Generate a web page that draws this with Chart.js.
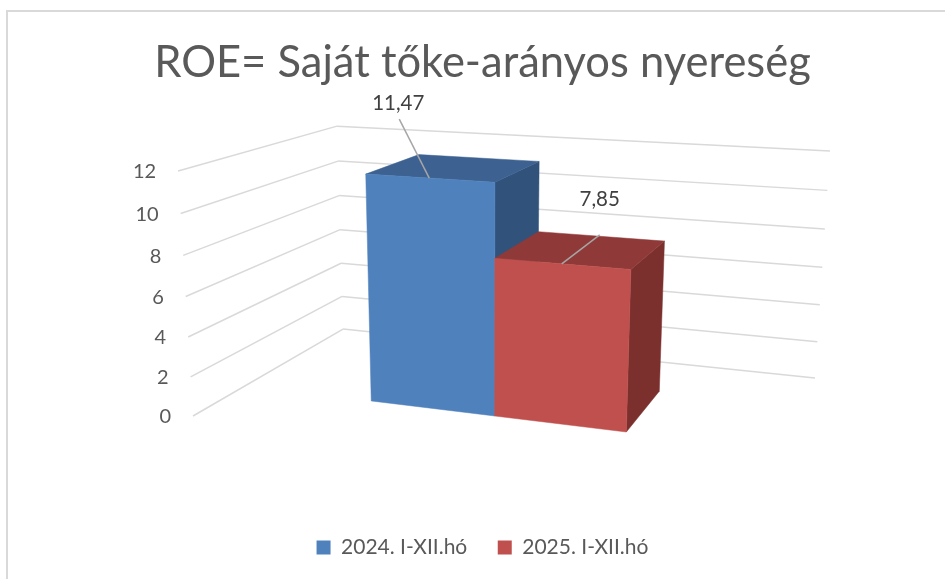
<!DOCTYPE html>
<html>
<head>
<meta charset="utf-8">
<title>ROE</title>
<script src="https://cdn.jsdelivr.net/npm/chart.js@4"></script>
<style>
    html, body { margin: 0; padding: 0; background: #fff; }
    canvas { display: block; }
</style>
</head>
<body>
<canvas id="roeChart" width="945" height="579"></canvas>
<script>
// Chart data
const categories = ['ROE'];
const series2024 = [11.47];
const series2025 = [7.85];
const seriesNames = ['2024. I-XII.hó', '2025. I-XII.hó'];
const yTicks = [0, 2, 4, 6, 8, 10, 12];
const yTickLabels = ['0', '2', '4', '6', '8', '10', '12'];

const FONT = 'Lato, Carlito, Calibri, sans-serif';
const GRID_COLOR = '#d9d9d9';

// Shades for the 3D faces: front, top, side
const faces = [
    { front: '#4f81bd', top: '#3d6291', side: '#31527b' },
    { front: '#c0504d', top: '#8f3a38', side: '#7b302e' }
];

// Where each value label sits relative to the top middle of its bar
const labelOffsets = [
    { x: -31, y: -75, lineX: -30, lineY: -59 },
    { x: 38, y: -64, lineX: 38, lineY: -29 }
];

// Perspective matrix: axis x, y, depth, origin
const view = {
    x: [465.5, 8.976, -0.13397],
    y: [-23.41, -253.2, -0.04777],
    z: [224.7, -15.24, 0.2177],
    o: [193, 416, 1]
};

// The bars take this slice of the floor depth
const barDepth = { near: 0.306, far: 0.699 };

// x, y and z are 0..1 inside the chart box
function project(x, y, z) {
    const h = [0, 1, 2].map(i => x * view.x[i] + y * view.y[i] + z * view.z[i] + view.o[i]);
    return { x: h[0] / h[2], y: h[1] / h[2] };
}

function fillFace(ctx, points, color) {
    ctx.beginPath();
    points.forEach((p, i) => i ? ctx.lineTo(p.x, p.y) : ctx.moveTo(p.x, p.y));
    ctx.closePath();
    ctx.fillStyle = color;
    ctx.strokeStyle = color;
    ctx.lineWidth = 0.5;
    ctx.fill();
    ctx.stroke();
}

function line(ctx, a, b, color, width) {
    ctx.beginPath();
    ctx.moveTo(a.x, a.y);
    ctx.lineTo(b.x, b.y);
    ctx.strokeStyle = color;
    ctx.lineWidth = width;
    ctx.stroke();
}

// Draws the walls and the boxes from what the scales and bar elements worked out
const perspectivePlugin = {
    id: 'perspective',
    beforeDraw(chart) {
        const ctx = chart.ctx;
        ctx.save();
        ctx.strokeStyle = GRID_COLOR;
        ctx.lineWidth = 2;
        ctx.beginPath();
        ctx.moveTo(7, 579);
        ctx.lineTo(7, 11);
        ctx.lineTo(945, 11);
        ctx.stroke();
        ctx.restore();
    },
    beforeDatasetsDraw(chart) {
        const ctx = chart.ctx;
        const area = chart.chartArea;
        const yScale = chart.scales.y;
        ctx.save();
        ctx.lineCap = 'butt';
        yScale.ticks.forEach((tick, i) => {
            const y = (area.bottom - yScale.getPixelForValue(tick.value)) / area.height;
            const front = project(0, y, 0);
            line(ctx, front, project(0, y, 1), GRID_COLOR, 1.5);
            line(ctx, project(0, y, 1), project(1, y, 1), GRID_COLOR, 1.5);
            ctx.fillStyle = '#595959';
            ctx.font = '20px ' + FONT;
            ctx.textAlign = 'right';
            ctx.textBaseline = 'middle';
            ctx.fillText(yTickLabels[i], front.x - 22, front.y + 1);
        });
        ctx.restore();
    },
    beforeDatasetDraw() {
        // the flat bars are replaced by the boxes below
        return false;
    },
    afterDatasetsDraw(chart) {
        const ctx = chart.ctx;
        const area = chart.chartArea;
        const yScale = chart.scales.y;
        const near = barDepth.near;
        const far = barDepth.far;
        ctx.save();
        chart.data.datasets.forEach((ds, i) => {
            const bar = chart.getDatasetMeta(i).data[0];
            const x0 = (bar.x - bar.width / 2 - area.left) / area.width;
            const x1 = (bar.x + bar.width / 2 - area.left) / area.width;
            const y0 = (area.bottom - bar.base) / area.height;
            const y1 = (area.bottom - yScale.getPixelForValue(ds.data[0])) / area.height;
            fillFace(ctx, [project(x1, y0, near), project(x1, y0, far), project(x1, y1, far), project(x1, y1, near)], faces[i].side);
            fillFace(ctx, [project(x0, y1, near), project(x1, y1, near), project(x1, y1, far), project(x0, y1, far)], faces[i].top);
            fillFace(ctx, [project(x0, y0, near), project(x1, y0, near), project(x1, y1, near), project(x0, y1, near)], faces[i].front);
        });
        // value labels go on top of all boxes
        chart.data.datasets.forEach((ds, i) => {
            const bar = chart.getDatasetMeta(i).data[0];
            const y1 = (area.bottom - yScale.getPixelForValue(ds.data[0])) / area.height;
            const anchor = project((bar.x - area.left) / area.width, y1, near);
            const off = labelOffsets[i];
            line(ctx, anchor, { x: anchor.x + off.lineX, y: anchor.y + off.lineY }, '#a6a6a6', 1.5);
            ctx.fillStyle = '#404040';
            ctx.font = '20.5px ' + FONT;
            ctx.textAlign = 'center';
            ctx.textBaseline = 'middle';
            ctx.fillText(String(ds.data[0]).replace('.', ','), anchor.x + off.x, anchor.y + off.y);
        });
        ctx.restore();
    }
};

const chartCtx = document.getElementById('roeChart').getContext('2d');
const roeChart = new Chart(chartCtx, {
    type: 'bar',
    data: {
        labels: categories,
        datasets: [
            { label: seriesNames[0], data: series2024, backgroundColor: faces[0].front, borderWidth: 0 },
            { label: seriesNames[1], data: series2025, backgroundColor: faces[1].front, borderWidth: 0 }
        ]
    },
    options: {
        responsive: false,
        animation: false,
        layout: { padding: { top: 37, right: 0, bottom: 11, left: 20 } },
        categoryPercentage: 0.479,
        barPercentage: 1,
        scales: {
            x: { display: false },
            y: {
                display: false,
                min: 0,
                max: 12,
                afterBuildTicks(scale) {
                    scale.ticks = yTicks.map(v => ({ value: v }));
                }
            }
        },
        plugins: {
            title: {
                display: true,
                text: 'ROE= Saját tőke-arányos nyereség',
                color: '#595959',
                font: { family: FONT, size: 43.5, weight: 'normal' },
                padding: { top: 0, bottom: 20 }
            },
            legend: {
                position: 'bottom',
                labels: {
                    color: '#595959',
                    font: { family: FONT, size: 21 },
                    boxWidth: 14,
                    boxHeight: 14,
                    padding: 30.5
                }
            },
            tooltip: { enabled: false }
        }
    },
    plugins: [perspectivePlugin]
});
</script>
</body>
</html>
